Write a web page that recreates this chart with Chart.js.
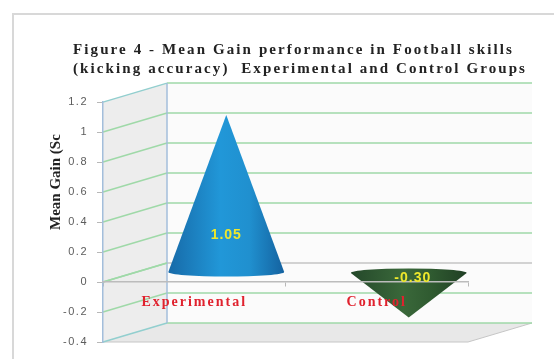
<!DOCTYPE html>
<html>
<head>
<meta charset="utf-8">
<title>Mean Gain performance</title>
<script src="https://cdn.jsdelivr.net/npm/chart.js"></script>
<style>
    html, body { margin: 0; padding: 0; background: #fff; }
    canvas { display: block; }
</style>
</head>
<body>
<canvas id="gainChart" width="554" height="359"></canvas>
<script>
// --- DATA ---
const groups = ['Experimental', 'Control'];
const meanGain = [1.05, -0.30];
const valueLabels = ['1.05', '-0.30'];
const yTicks = [-0.4, -0.2, 0, 0.2, 0.4, 0.6, 0.8, 1, 1.2];
const titleLines = ['Figure 4 - Mean Gain performance in Football skills', '(kicking accuracy)  Experimental and Control Groups'];
const yAxisTitle = 'Mean Gain (Sc';

// --- 3D box look ---
const depthX = 64;
const depthY = 19;
const GRID_GREEN = '#9fd9a8';
const WALL_BLUE = '#a3bedb';
const WALL_TEAL = '#92cfcf';
const coneColors = [
    ['#176aa8', '#2197d8', '#2090cf', '#1462a0'],
    ['#24482a', '#3a683a', '#2f5a30', '#203f24']
];
const labelOffsets = [[0, -37], [4, 5]];

function polygon(ctx, pts, fill, stroke) {
    ctx.beginPath();
    pts.forEach((p, i) => i ? ctx.lineTo(p[0], p[1]) : ctx.moveTo(p[0], p[1]));
    ctx.closePath();
    if (fill) { ctx.fillStyle = fill; ctx.fill(); }
    if (stroke) { ctx.strokeStyle = stroke; ctx.stroke(); }
}

function line(ctx, x1, y1, x2, y2, color, width) {
    ctx.beginPath();
    ctx.moveTo(x1, y1);
    ctx.lineTo(x2, y2);
    ctx.strokeStyle = color;
    ctx.lineWidth = width;
    ctx.stroke();
}

// canvas text has no letter spacing option in Chart.js, so wrap the draw call
function wrapDraw(ctx, owner, method, spacing, dx, dy) {
    const original = owner[method];
    owner[method] = function (...args) {
        ctx.save();
        ctx.letterSpacing = spacing;
        ctx.translate(dx, dy);
        original.apply(owner, args);
        ctx.restore();
    };
}

const box3d = {
    id: 'box3d',
    afterLayout(chart) {
        if (chart.$wrapped) return;
        chart.$wrapped = true;
        const ctx = chart.ctx;
        wrapDraw(ctx, chart.scales.x, 'drawLabels', '2px', 0, 0);
        wrapDraw(ctx, chart.scales.y, 'drawLabels', '1.5px', 0, 0);
        // axis title sits above the middle of the axis
        wrapDraw(ctx, chart.scales.y, 'drawTitle', '0px', 0, -40);
        wrapDraw(ctx, chart.titleBlock, 'draw', '2.1px', 73, 0);
    },
    beforeDraw(chart) {
        const ctx = chart.ctx;
        const { left, right, top, bottom } = chart.chartArea;
        const y = chart.scales.y;
        const zero = y.getPixelForValue(0);
        ctx.save();

        // card frame
        ctx.strokeStyle = '#d8d8d8';
        ctx.lineWidth = 2;
        ctx.strokeRect(13, 14, 640, 440);

        // back wall, side wall, floor
        ctx.lineWidth = 1;
        ctx.fillStyle = '#fbfbfb';
        ctx.fillRect(left + depthX, top - depthY, right - left, bottom - top);
        polygon(ctx, [[left, top], [left + depthX, top - depthY], [left + depthX, bottom - depthY], [left, bottom]], '#ededed');
        polygon(ctx, [[left, bottom], [left + depthX, bottom - depthY], [right + depthX, bottom - depthY], [right, bottom]], '#e8e8e8');
        line(ctx, left, bottom, right, bottom, '#c6c6c6', 1);
        line(ctx, right, bottom, right + depthX, bottom - depthY, '#c6c6c6', 1);

        // grid lines follow the y scale around the two walls
        yTicks.forEach(v => {
            const py = y.getPixelForValue(v);
            const edge = v === yTicks[0] || v === yTicks[yTicks.length - 1];
            line(ctx, left, py, left + depthX, py - depthY, edge ? WALL_TEAL : GRID_GREEN, 1.5);
            line(ctx, left + depthX, py - depthY, right + depthX, py - depthY, v === 0 ? '#c4c4c4' : GRID_GREEN, 1.5);
        });
        line(ctx, left + depthX, top - depthY, left + depthX, bottom - depthY, WALL_BLUE, 1.5);
        line(ctx, left, zero, left + depthX, zero - depthY, GRID_GREEN, 1.5);
        ctx.restore();
    },
    // cones replace the flat bars; each one stands mid-way into the box
    beforeDatasetDraw(chart, args) {
        const ctx = chart.ctx;
        args.meta.data.forEach((bar, i) => {
            const cx = bar.x + depthX / 2;
            const tipY = bar.y - depthY / 2;
            const baseY = bar.base - depthY / 2;
            const rx = bar.width / 2;
            const ry = 4.5;
            const g = ctx.createLinearGradient(cx - rx, 0, cx + rx, 0);
            const c = coneColors[i];
            g.addColorStop(0, c[0]);
            g.addColorStop(0.45, c[1]);
            g.addColorStop(0.7, c[2]);
            g.addColorStop(1, c[3]);
            ctx.save();
            ctx.beginPath();
            ctx.moveTo(cx, tipY);
            ctx.lineTo(cx - rx, baseY);
            ctx.ellipse(cx, baseY, rx, ry, 0, Math.PI, 0, meanGain[i] >= 0);
            ctx.closePath();
            ctx.fillStyle = g;
            ctx.fill();
            ctx.restore();
        });
        return false;
    },
    afterDraw(chart) {
        const ctx = chart.ctx;
        const meta = chart.getDatasetMeta(0);
        ctx.save();
        ctx.font = 'bold 14px "Liberation Sans"';
        ctx.fillStyle = '#eee82c';
        ctx.textAlign = 'center';
        ctx.textBaseline = 'middle';
        ctx.letterSpacing = '1px';
        meta.data.forEach((bar, i) => {
            ctx.fillText(valueLabels[i],
                bar.x + depthX / 2 + labelOffsets[i][0],
                bar.base - depthY / 2 + labelOffsets[i][1]);
        });
        ctx.restore();
    }
};

new Chart(document.getElementById('gainChart'), {
    type: 'bar',
    data: {
        labels: groups,
        datasets: [{
            label: 'Mean Gain',
            data: meanGain,
            backgroundColor: '#2197d8',
            barPercentage: 0.635,
            categoryPercentage: 1
        }]
    },
    options: {
        responsive: false,
        animation: false,
        layout: { padding: { left: 0, right: 86, top: 0, bottom: 17 } },
        plugins: {
            legend: { display: false },
            tooltip: { enabled: false },
            title: {
                display: true,
                text: titleLines,
                align: 'start',
                color: '#222',
                font: { family: '"Liberation Serif"', size: 15, weight: 'bold', lineHeight: 1.27 },
                padding: { top: 41, bottom: 23 }
            }
        },
        scales: {
            x: {
                position: { y: 0 },
                grid: { display: true, drawOnChartArea: false, tickColor: '#b8b8b8', tickLength: 4, offset: true },
                border: { color: '#bcbcbc', width: 1.5, z: 1 },
                ticks: {
                    z: 1,
                    color: '#e0222e',
                    padding: 8,
                    font: { family: '"Liberation Serif"', size: 14, weight: 'bold' },
                    maxRotation: 0
                }
            },
            y: {
                min: yTicks[0],
                max: yTicks[yTicks.length - 1],
                afterFit(scale) { scale.width = 103; },
                grid: { drawOnChartArea: false, tickColor: '#b8b8b8', tickLength: 6 },
                border: { color: WALL_BLUE, width: 1.5 },
                ticks: {
                    stepSize: 0.2,
                    padding: 9,
                    color: '#5c5c5c',
                    font: { family: '"Liberation Sans"', size: 11 },
                    callback: (value) => String(Number(value.toFixed(1)))
                },
                title: {
                    display: true,
                    text: yAxisTitle,
                    color: '#222',
                    padding: { top: 47, bottom: 0 },
                    font: { family: '"Liberation Serif"', size: 15, weight: 'bold' }
                }
            }
        }
    },
    plugins: [box3d]
});
</script>
</body>
</html>
